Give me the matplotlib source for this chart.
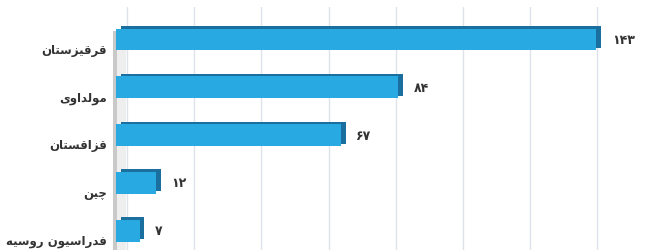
import matplotlib
matplotlib.use("Agg")
import matplotlib.pyplot as plt
from matplotlib.transforms import ScaledTranslation

# ---- data ----
categories = ["قرقیزستان", "مولداوی", "قزاقستان", "چین", "فدراسیون روسیه"]
values = [143, 84, 67, 12, 7]
value_labels = ["۱۴۳", "۸۴", "۶۷", "۱۲", "۷"]
grid_ticks = [0, 20, 40, 60, 80, 100, 120, 140, 160]

# ---- minimal Persian shaping (presentation forms, visual order) ----
FORMS = {
    '\u0627': ('\uFE8D', '\uFE8E', None, None),
    '\u062A': ('\uFE95', '\uFE96', '\uFE97', '\uFE98'),
    '\u062C': ('\uFE9D', '\uFE9E', '\uFE9F', '\uFEA0'),
    '\u0686': ('\uFB7A', '\uFB7B', '\uFB7C', '\uFB7D'),
    '\u062F': ('\uFEA9', '\uFEAA', None, None),
    '\u0631': ('\uFEAD', '\uFEAE', None, None),
    '\u0632': ('\uFEAF', '\uFEB0', None, None),
    '\u0633': ('\uFEB1', '\uFEB2', '\uFEB3', '\uFEB4'),
    '\u0641': ('\uFED1', '\uFED2', '\uFED3', '\uFED4'),
    '\u0642': ('\uFED5', '\uFED6', '\uFED7', '\uFED8'),
    '\u0644': ('\uFEDD', '\uFEDE', '\uFEDF', '\uFEE0'),
    '\u0645': ('\uFEE1', '\uFEE2', '\uFEE3', '\uFEE4'),
    '\u0646': ('\uFEE5', '\uFEE6', '\uFEE7', '\uFEE8'),
    '\u0647': ('\uFEE9', '\uFEEA', '\uFEEB', '\uFEEC'),
    '\u0648': ('\uFEED', '\uFEEE', None, None),
    '\u06CC': ('\uFBFC', '\uFBFD', '\uFBFE', '\uFBFF'),
}


def shape(s):
    s = s.replace('\u064A', '\u06CC').replace('\u0649', '\u06CC')
    out = []
    for i, c in enumerate(s):
        if c not in FORMS:
            out.append(c)
            continue
        prev = s[i - 1] if i > 0 else ''
        nxt = s[i + 1] if i + 1 < len(s) else ''
        jp = prev in FORMS and FORMS[prev][2] is not None
        jn = FORMS[c][2] is not None and nxt in FORMS
        iso, fin, ini, med = FORMS[c]
        if jp and jn:
            out.append(med)
        elif jp:
            out.append(fin)
        elif jn:
            out.append(ini)
        else:
            out.append(iso)
    return ''.join(reversed(out))


plt.rcParams['font.family'] = ['DejaVu Sans']

W, H = 659, 251
fig = plt.figure(figsize=(W / 100, H / 100), dpi=100)
left_px, top_px = 110, 8
ax = fig.add_axes([left_px / W, 0, 1 - left_px / W, 1 - top_px / H])

px_per_unit = 3.36
zero_px = 116
ax.set_xlim(-(zero_px - left_px) / px_per_unit, (W - zero_px) / px_per_unit)
c0, step = 40.5, 47.8
ax.set_ylim((H - c0) / step, (top_px - c0) / step)

for s in ax.spines.values():
    s.set_visible(False)
ax.set_xticks([])
ax.set_yticks([])

# back-wall grid lines (offset to the right for the 3D look)
grid_off = ScaledTranslation(11 / 100, 0, fig.dpi_scale_trans)
for v in grid_ticks:
    ln = ax.axvline(v, color='#dfe2ea', lw=1.0, zorder=0)
    ln.set_transform(ln.get_transform() + grid_off)

# left wall shading
ax.axvspan(-1.0, 0.3, ymin=0, ymax=0.9, color='#c9c9c9', zorder=0.5, lw=0)
ax.axvspan(0.3, 3.0, ymin=0, ymax=0.9, color='#eeeeee', zorder=0.4, lw=0)

ypos = list(range(len(categories)))
bh = 0.46

# depth / shadow face
shadow = ax.barh(ypos, values, height=bh, color='#1b6f9f', zorder=2, lw=0)
sh_off = ScaledTranslation(4.5 / 100, 2.5 / 100, fig.dpi_scale_trans)
for p in shadow:
    p.set_transform(ax.transData + sh_off)

# front face
bars = ax.barh(ypos, values, height=bh, color='#29a9e1', zorder=3, lw=0)

# category labels
for y, name in zip(ypos, categories):
    ax.annotate(shape(name), xy=(0, y), xycoords='data',
                xytext=(-(zero_px - 107) * 0.72, -7), textcoords='offset points',
                ha='right', va='center', fontsize=8.5, fontweight='bold',
                color='#333333')

# value labels
for y, v, lab in zip(ypos, values, value_labels):
    ax.annotate(lab, xy=(v, y), xycoords='data',
                xytext=(11, 0), textcoords='offset points',
                ha='left', va='center', fontsize=9, fontweight='bold',
                color='#333333')

fig.savefig('out.png', dpi=100, facecolor='white')
